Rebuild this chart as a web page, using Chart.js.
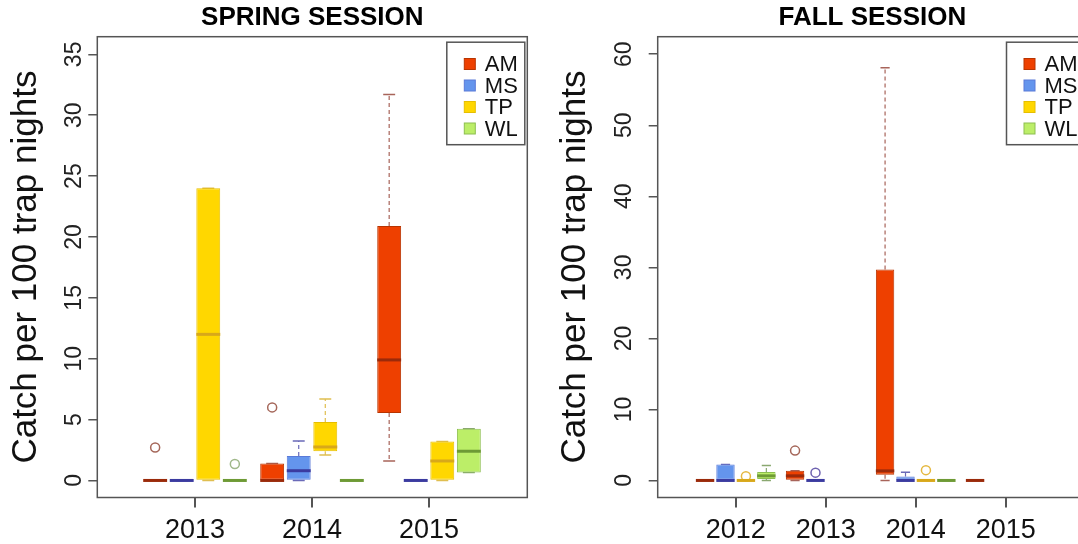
<!DOCTYPE html>
<html>
<head>
<meta charset="utf-8">
<title>Catch per 100 trap nights</title>
<script src="https://cdn.jsdelivr.net/npm/chart.js@4.4.1/dist/chart.umd.min.js"></script>
<style>
  html, body { margin: 0; padding: 0; background: #fff; overflow: hidden; width: 1078px; height: 544px; }
  canvas { position: absolute; top: 0; }
  #spring { left: 0; }
  #fall { left: 539px; }
</style>
</head>
<body>
<canvas id="spring" width="539" height="544"></canvas>
<canvas id="fall" width="560" height="544"></canvas>
<script>
// ---- data ----------------------------------------------------------------
const speciesNames = ['AM', 'MS', 'TP', 'WL'];
const springYears = ['2013', '2014', '2015'];
const fallYears = ['2012', '2013', '2014', '2015'];
const springTicks = [0, 5, 10, 15, 20, 25, 30, 35];
const fallTicks = [0, 10, 20, 30, 40, 50, 60];

// box summaries per year: [lower whisker, Q1, median, Q3, upper whisker]; null = no sample
const springAM = [[0, 0, 0, 0, 0], [0, 0, 0, 1.4, 1.4], [1.6, 5.55, 9.9, 20.9, 31.7]];
const springMS = [[0, 0, 0, 0, 0], [0, 0, 0.8, 2.0, 3.25], [0, 0, 0, 0, 0]];
const springTP = [[0, 0, 12, 24, 24], [2.1, 2.4, 2.75, 4.8, 6.7], [0, 0, 1.6, 3.2, 3.2]];
const springWL = [[0, 0, 0, 0, 0], [0, 0, 0, 0, 0], [0.65, 0.65, 2.4, 4.25, 4.25]];
const springOutAM = [[2.7], [6.0], []];
const springOutMS = [[], [], []];
const springOutTP = [[], [], []];
const springOutWL = [[1.35], [], []];

const fallAM = [[0, 0, 0, 0, 0], [0, 0, 0.65, 1.35, 1.35], [0, 0.8, 1.35, 29.7, 58.1], [0, 0, 0, 0, 0]];
const fallMS = [[0, 0, 0, 2.25, 2.25], [0, 0, 0, 0, 0], [0, 0, 0, 0.55, 1.15], null];
const fallTP = [[0, 0, 0, 0, 0], null, [0, 0, 0, 0, 0], null];
const fallWL = [[0, 0.2, 0.65, 1.2, 2.1], null, [0, 0, 0, 0, 0], null];
const fallOutAM = [[], [4.2], [], []];
const fallOutMS = [[], [1.1], [], []];
const fallOutTP = [[0.6], [], [1.45], []];
const fallOutWL = [[], [], [], []];

// ---- styles ----------------------------------------------------------------
const boxFill = ['#EE4000', '#6495ED', '#FFD700', '#BCEE68'];
const boxEdge = ['#B83400', '#5A7AD8', '#E6BE00', '#8DBE50'];
const medianColor = ['#9A2A0A', '#3B3BA0', '#D8A81A', '#6E9A35'];
const whiskerColor = ['#A8645A', '#6A6AB8', '#E0BE50', '#8AA870'];
const outlierColor = ['#A5675A', '#6E62B0', '#E5B840', '#A0B88A'];

Chart.defaults.font.family = '"Liberation Sans", Arial, Helvetica, sans-serif';
Chart.defaults.color = '#111';

// Whiskers, staples, medians, frame, axis tick marks, rotated y labels and the key box.
const boxDecor = {
  id: 'boxDecor',
  beforeDatasetsDraw(chart, args, o) {
    const ctx = chart.ctx, y = chart.scales.y;
    o.stats.forEach((series, k) => {
      const meta = chart.getDatasetMeta(k);
      series.forEach((s, i) => {
        if (!s) return;
        const el = meta.data[i];
        const cx = el.x, w = el.width;
        const [lo, q1, , q3, hi] = s.map(v => y.getPixelForValue(v));
        ctx.save();
        ctx.strokeStyle = whiskerColor[k];
        ctx.lineWidth = 1.2;
        ctx.setLineDash([4, 3]);
        ctx.beginPath();
        ctx.moveTo(cx, q3); ctx.lineTo(cx, hi);
        ctx.moveTo(cx, q1); ctx.lineTo(cx, lo);
        ctx.stroke();
        ctx.setLineDash([]);
        ctx.lineWidth = 1.5;
        ctx.beginPath();
        ctx.moveTo(cx - w / 4, hi); ctx.lineTo(cx + w / 4, hi);
        ctx.moveTo(cx - w / 4, lo); ctx.lineTo(cx + w / 4, lo);
        ctx.stroke();
        ctx.restore();
      });
    });
  },
  afterDatasetsDraw(chart, args, o) {
    const ctx = chart.ctx, y = chart.scales.y;
    o.stats.forEach((series, k) => {
      const meta = chart.getDatasetMeta(k);
      series.forEach((s, i) => {
        if (!s) return;
        const el = meta.data[i];
        const m = y.getPixelForValue(s[2]);
        ctx.save();
        ctx.strokeStyle = medianColor[k];
        ctx.lineWidth = 3;
        ctx.beginPath();
        ctx.moveTo(el.x - el.width / 2, m);
        ctx.lineTo(el.x + el.width / 2, m);
        ctx.stroke();
        ctx.restore();
      });
    });
  },
  afterDraw(chart, args, o) {
    const ctx = chart.ctx, ca = chart.chartArea, x = chart.scales.x, y = chart.scales.y;
    ctx.save();
    // plot frame
    ctx.strokeStyle = '#555';
    ctx.lineWidth = 1.5;
    ctx.strokeRect(ca.left, ca.top, ca.right - ca.left, ca.bottom - ca.top);

    // x tick marks below the frame, one per year
    ctx.fillStyle = '#555';
    o.years.forEach((_, i) => {
      const px = Math.round(x.getPixelForValue(i + 1));
      ctx.fillRect(px - 1, ca.bottom, 2, 10);
    });

    // y tick labels, parallel to the axis
    ctx.fillStyle = '#222';
    ctx.font = '23px "Liberation Sans", Arial, sans-serif';
    ctx.textAlign = 'center';
    ctx.textBaseline = 'middle';
    y.ticks.forEach(t => {
      ctx.save();
      ctx.translate(o.yLabelX, y.getPixelForValue(t.value));
      ctx.rotate(-Math.PI / 2);
      ctx.fillText(String(t.value), 0, 0);
      ctx.restore();
    });

    // key
    const bx = ca.right - 80.5, by = ca.top + 5.5, bw = 78, bh = 102.5;
    ctx.fillStyle = '#fff';
    ctx.fillRect(bx, by, bw, bh);
    ctx.strokeStyle = '#555';
    ctx.lineWidth = 1.5;
    ctx.strokeRect(bx, by, bw, bh);
    ctx.font = '22px "Liberation Sans", Arial, sans-serif';
    ctx.textAlign = 'left';
    speciesNames.forEach((name, k) => {
      const cy = by + 21.8 + k * 21.5;
      ctx.fillStyle = boxFill[k];
      ctx.fillRect(bx + 17.5, cy - 5.5, 11, 11);
      ctx.strokeStyle = boxEdge[k];
      ctx.lineWidth = 1;
      ctx.strokeRect(bx + 17.5, cy - 5.5, 11, 11);
      ctx.fillStyle = '#111';
      ctx.fillText(name, bx + 38, cy + 1);
    });
    ctx.restore();
  }
};

function buildChart(id, years, yTicks, stats, outliers, titleText, L) {
  const catPct = 0.908;
  const n = speciesNames.length;
  const slot = catPct / n;
  const datasets = [];
  stats.forEach((series, k) => {
    datasets.push({
      type: 'bar',
      label: speciesNames[k],
      data: series.map((s, i) => ({ x: i + 1, y: s ? [s[1], s[3]] : null })),
      backgroundColor: boxFill[k],
      borderColor: boxEdge[k],
      borderWidth: 1,
      borderSkipped: false,
      categoryPercentage: catPct,
      barPercentage: 0.9
    });
  });
  outliers.forEach((series, k) => {
    const pts = [];
    series.forEach((vals, i) => vals.forEach(v => pts.push({ x: i + 1 + (k - (n - 1) / 2) * slot, y: v })));
    datasets.push({
      type: 'scatter',
      label: speciesNames[k] + ' outliers',
      data: pts,
      pointStyle: 'circle',
      pointRadius: 4.5,
      pointBorderWidth: 1.5,
      pointBorderColor: outlierColor[k],
      pointBackgroundColor: 'rgba(0,0,0,0)'
    });
  });

  return new Chart(document.getElementById(id), {
    type: 'bar',
    data: { datasets },
    plugins: [boxDecor],
    options: {
      responsive: false,
      animation: false,
      events: [],
      layout: { padding: { left: 0, right: L.padRight, top: 0, bottom: 0 } },
      plugins: {
        legend: { display: false },
        tooltip: { enabled: false },
        title: {
          display: true,
          text: titleText,
          fullSize: false,
          color: '#000',
          font: { size: 26, weight: 'bold', lineHeight: 1.2 },
          padding: { top: 2.5, bottom: 3 }
        },
        boxDecor: { stats, years, yLabelX: L.yLabelX }
      },
      scales: {
        x: {
          type: 'linear',
          min: L.xMin,
          max: L.xMax,
          offset: false,
          afterBuildTicks: s => { s.ticks = years.map((_, i) => ({ value: i + 1 })); },
          afterFit: s => { s.height = 46.5; },
          ticks: {
            callback: v => years[Math.round(v) - 1],
            font: { size: 27 },
            color: '#111',
            padding: 9,
            maxRotation: 0,
            autoSkip: false
          },
          grid: { display: false },
          border: { display: false }
        },
        y: {
          type: 'linear',
          min: L.yMin,
          max: L.yMax,
          afterBuildTicks: s => { s.ticks = yTicks.map(v => ({ value: v })); },
          afterFit: s => { s.width = L.yAxisWidth; },
          ticks: { display: false },
          grid: { drawOnChartArea: false, drawTicks: true, tickLength: 9, color: '#555', lineWidth: 1.5 },
          border: { display: false },
          title: {
            display: true,
            text: 'Catch per 100 trap nights',
            color: '#111',
            font: { size: 35, lineHeight: 1.2 },
            padding: { top: L.yTitlePad, bottom: 0 }
          }
        }
      }
    }
  });
}

buildChart('spring', springYears, springTicks,
  [springAM, springMS, springTP, springWL],
  [springOutAM, springOutMS, springOutTP, springOutWL],
  'SPRING SESSION',
  { padRight: 11.7, yAxisWidth: 97.3, yLabelX: 75, yTitlePad: 5,
    xMin: 0.165, xMax: 3.84, yMin: -1.40, yMax: 36.45 });

buildChart('fall', fallYears, fallTicks,
  [fallAM, fallMS, fallTP, fallWL],
  [fallOutAM, fallOutMS, fallOutTP, fallOutWL],
  'FALL SESSION',
  { padRight: 12, yAxisWidth: 118.7, yLabelX: 85.7, yTitlePad: 15.5,
    xMin: 0.1333, xMax: 4.903, yMin: -2.40, yMax: 62.47 });
</script>
</body>
</html>
